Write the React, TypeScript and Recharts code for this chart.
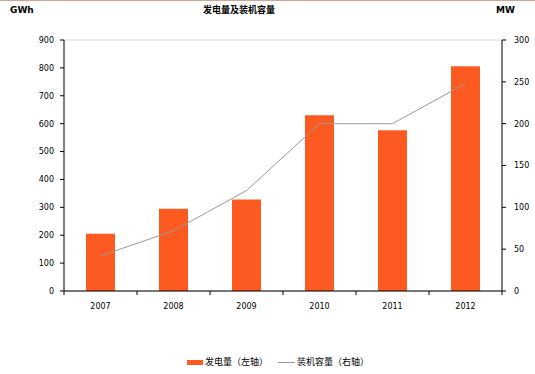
import React from "react";
import {
  ComposedChart,
  Bar,
  Line,
  XAxis,
  YAxis,
  CartesianGrid,
} from "recharts";

// years on the x axis
const years = ["2007", "2008", "2009", "2010", "2011", "2012"];
// 发电量 (GWh, left axis)
const generation = [205, 295, 328, 630, 576, 806];
// 装机容量 (MW, right axis)
const capacity = [42, 72, 120, 200, 200, 248];
const leftTicks = [0, 100, 200, 300, 400, 500, 600, 700, 800, 900];
const rightTicks = [0, 50, 100, 150, 200, 250, 300];

const BAR_COLOR = "#FC5A20";
const LINE_COLOR = "#999999";
const FONT = "'DejaVu Sans', 'Noto Sans CJK SC', sans-serif";
const CJK_FONT = "'Noto Sans CJK SC', sans-serif";

const chartData = years.map((year, i) => ({
  year,
  generation: generation[i],
  capacity: capacity[i],
}));

// x tick: label at band center, tick marks at band edges
const XTick = (props: any) => {
  const { x, y, payload, index } = props;
  const half = payload && payload.offset ? payload.offset : 36.5;
  return (
    <g>
      <line x1={x - half} y1={y} x2={x - half} y2={y + 4} stroke="#000" />
      {index === years.length - 1 && (
        <line x1={x + half} y1={y} x2={x + half} y2={y + 4} stroke="#000" />
      )}
      <text
        x={x}
        y={y + 18}
        textAnchor="middle"
        fontSize={8}
        fontFamily={FONT}
        fill="#000"
      >
        {payload.value}
      </text>
    </g>
  );
};

const App: React.FC = () => {
  return (
    <div
      style={{
        position: "relative",
        width: 535,
        height: 374,
        background: "#fff",
        borderTop: "1px solid #D9A392",
        boxSizing: "border-box",
      }}
    >
      <style>{"body{margin:0}"}</style>
      <div
        style={{
          position: "absolute",
          left: 10,
          top: 4,
          fontSize: 9,
          fontWeight: "bold",
          fontFamily: FONT,
        }}
      >
        GWh
      </div>
      <div
        style={{
          position: "absolute",
          left: 0,
          width: 478,
          top: 2,
          textAlign: "center",
          fontSize: 9,
          fontWeight: "bold",
          fontFamily: CJK_FONT,
        }}
      >
        发电量及装机容量
      </div>
      <div
        style={{
          position: "absolute",
          left: 496,
          top: 4,
          fontSize: 9,
          fontWeight: "bold",
          fontFamily: FONT,
        }}
      >
        MW
      </div>

      <ComposedChart
        width={535}
        height={373}
        data={chartData}
        margin={{ top: 39, right: 0, bottom: 53, left: 0 }}
      >
        <CartesianGrid vertical={false} stroke="#D9D9D9" />
        <XAxis
          dataKey="year"
          axisLine={{ stroke: "#000" }}
          tickLine={false}
          tickSize={0}
          tickMargin={0}
          tick={<XTick />}
          height={30}
          interval={0}
        />
        <YAxis
          yAxisId="left"
          width={64}
          domain={[0, 900]}
          ticks={leftTicks}
          axisLine={{ stroke: "#000" }}
          tickLine={{ stroke: "#000" }}
          tickSize={4}
          tickMargin={6}
          tick={{ fontSize: 8, fontFamily: FONT, fill: "#000" }}
        />
        <YAxis
          yAxisId="right"
          orientation="right"
          width={33}
          domain={[0, 300]}
          ticks={rightTicks}
          axisLine={{ stroke: "#000" }}
          tickLine={{ stroke: "#000" }}
          tickSize={4}
          tickMargin={8}
          tick={{ fontSize: 8, fontFamily: FONT, fill: "#000" }}
        />
        <Bar
          yAxisId="left"
          dataKey="generation"
          fill={BAR_COLOR}
          barSize={29}
          isAnimationActive={false}
        />
        <Line
          yAxisId="right"
          dataKey="capacity"
          stroke={LINE_COLOR}
          strokeWidth={1}
          dot={false}
          activeDot={false}
          isAnimationActive={false}
        />
      </ComposedChart>

      <div
        style={{
          position: "absolute",
          top: 359,
          left: 187,
          width: 16,
          height: 5,
          background: BAR_COLOR,
        }}
      />
      <div
        style={{
          position: "absolute",
          top: 354,
          left: 205,
          fontSize: 9,
          fontFamily: CJK_FONT,
          whiteSpace: "nowrap",
        }}
      >
        发电量（左轴）
      </div>
      <div
        style={{
          position: "absolute",
          top: 361,
          left: 278,
          width: 17,
          height: 1,
          background: LINE_COLOR,
        }}
      />
      <div
        style={{
          position: "absolute",
          top: 354,
          left: 297,
          fontSize: 9,
          fontFamily: CJK_FONT,
          whiteSpace: "nowrap",
        }}
      >
        装机容量（右轴）
      </div>
    </div>
  );
};

export default App;
